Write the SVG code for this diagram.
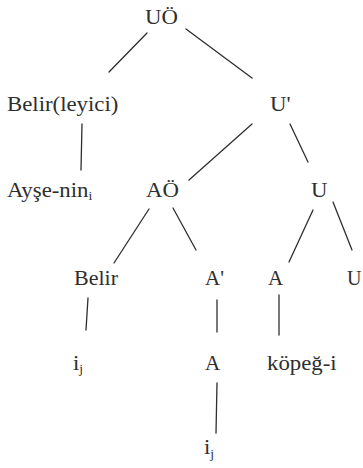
<svg xmlns="http://www.w3.org/2000/svg" width="363" height="468" viewBox="0 0 363 468">
<style>
text{font-family:"Liberation Serif","DejaVu Serif","Noto Serif","Times New Roman",Times,serif;font-size:20px;fill:#2e2e2e}
.sub{font-size:12px}
.e line{stroke:#2e2e2e;stroke-width:1.3;stroke-linecap:round}
</style>
<rect width="363" height="468" fill="#ffffff"/>
<g class="e" id="connectors">
<line x1="147" y1="33" x2="109" y2="72"/>
<line x1="186" y1="29" x2="252" y2="78"/>
<line x1="82" y1="124" x2="81" y2="170"/>
<line x1="252" y1="124" x2="189" y2="180"/>
<line x1="290" y1="124" x2="308" y2="162"/>
<line x1="149" y1="209" x2="114" y2="263"/>
<line x1="173" y1="208" x2="196" y2="250"/>
<line x1="313" y1="210" x2="289" y2="262"/>
<line x1="333" y1="202" x2="352" y2="250"/>
<line x1="88" y1="298" x2="86" y2="330"/>
<line x1="217" y1="300" x2="217" y2="332"/>
<line x1="279" y1="295" x2="279" y2="335"/>
<line x1="217" y1="383" x2="216" y2="433"/>
</g>
<g id="n-UO"><text font-family="Liberation Serif, serif" transform="translate(145,24) scale(1.14,1)">UÖ</text></g>
<g id="n-Belirleyici"><text transform="translate(7,111) scale(1.14,1)">Belir(leyici)</text></g>
<g id="n-Ubar"><text transform="translate(270,111) scale(1.14,1)">U'</text></g>
<g id="n-Ayse"><text transform="translate(7,197) scale(1.14,1)">Ayşe-nin<tspan class="sub" dy="3">i</tspan></text></g>
<g id="n-AO"><text transform="translate(146,197) scale(1.14,1)">AÖ</text></g>
<g id="n-U1"><text transform="translate(311,197) scale(1.14,1)">U</text></g>
<g id="n-Belir"><text transform="translate(74,285) scale(1.1,1)">Belir</text></g>
<g id="n-Abar"><text transform="translate(205,285) scale(1.05,1)">A'</text></g>
<g id="n-A1"><text transform="translate(268,285) scale(1.05,1)">A</text></g>
<g id="n-U2"><text transform="translate(347,285)">U</text></g>
<g id="n-ij1"><text transform="translate(73,370) scale(1.14,1)">i<tspan class="sub" font-size="9" dy="3">j</tspan></text></g>
<g id="n-A2"><text transform="translate(205,370) scale(1.05,1)">A</text></g>
<g id="n-kopegi"><text transform="translate(267,370) scale(1.14,1)">köpeğ-i</text></g>
<g id="n-ij2"><text transform="translate(204,454) scale(1.14,1)">i<tspan class="sub" dy="4">j</tspan></text></g>
</svg>
